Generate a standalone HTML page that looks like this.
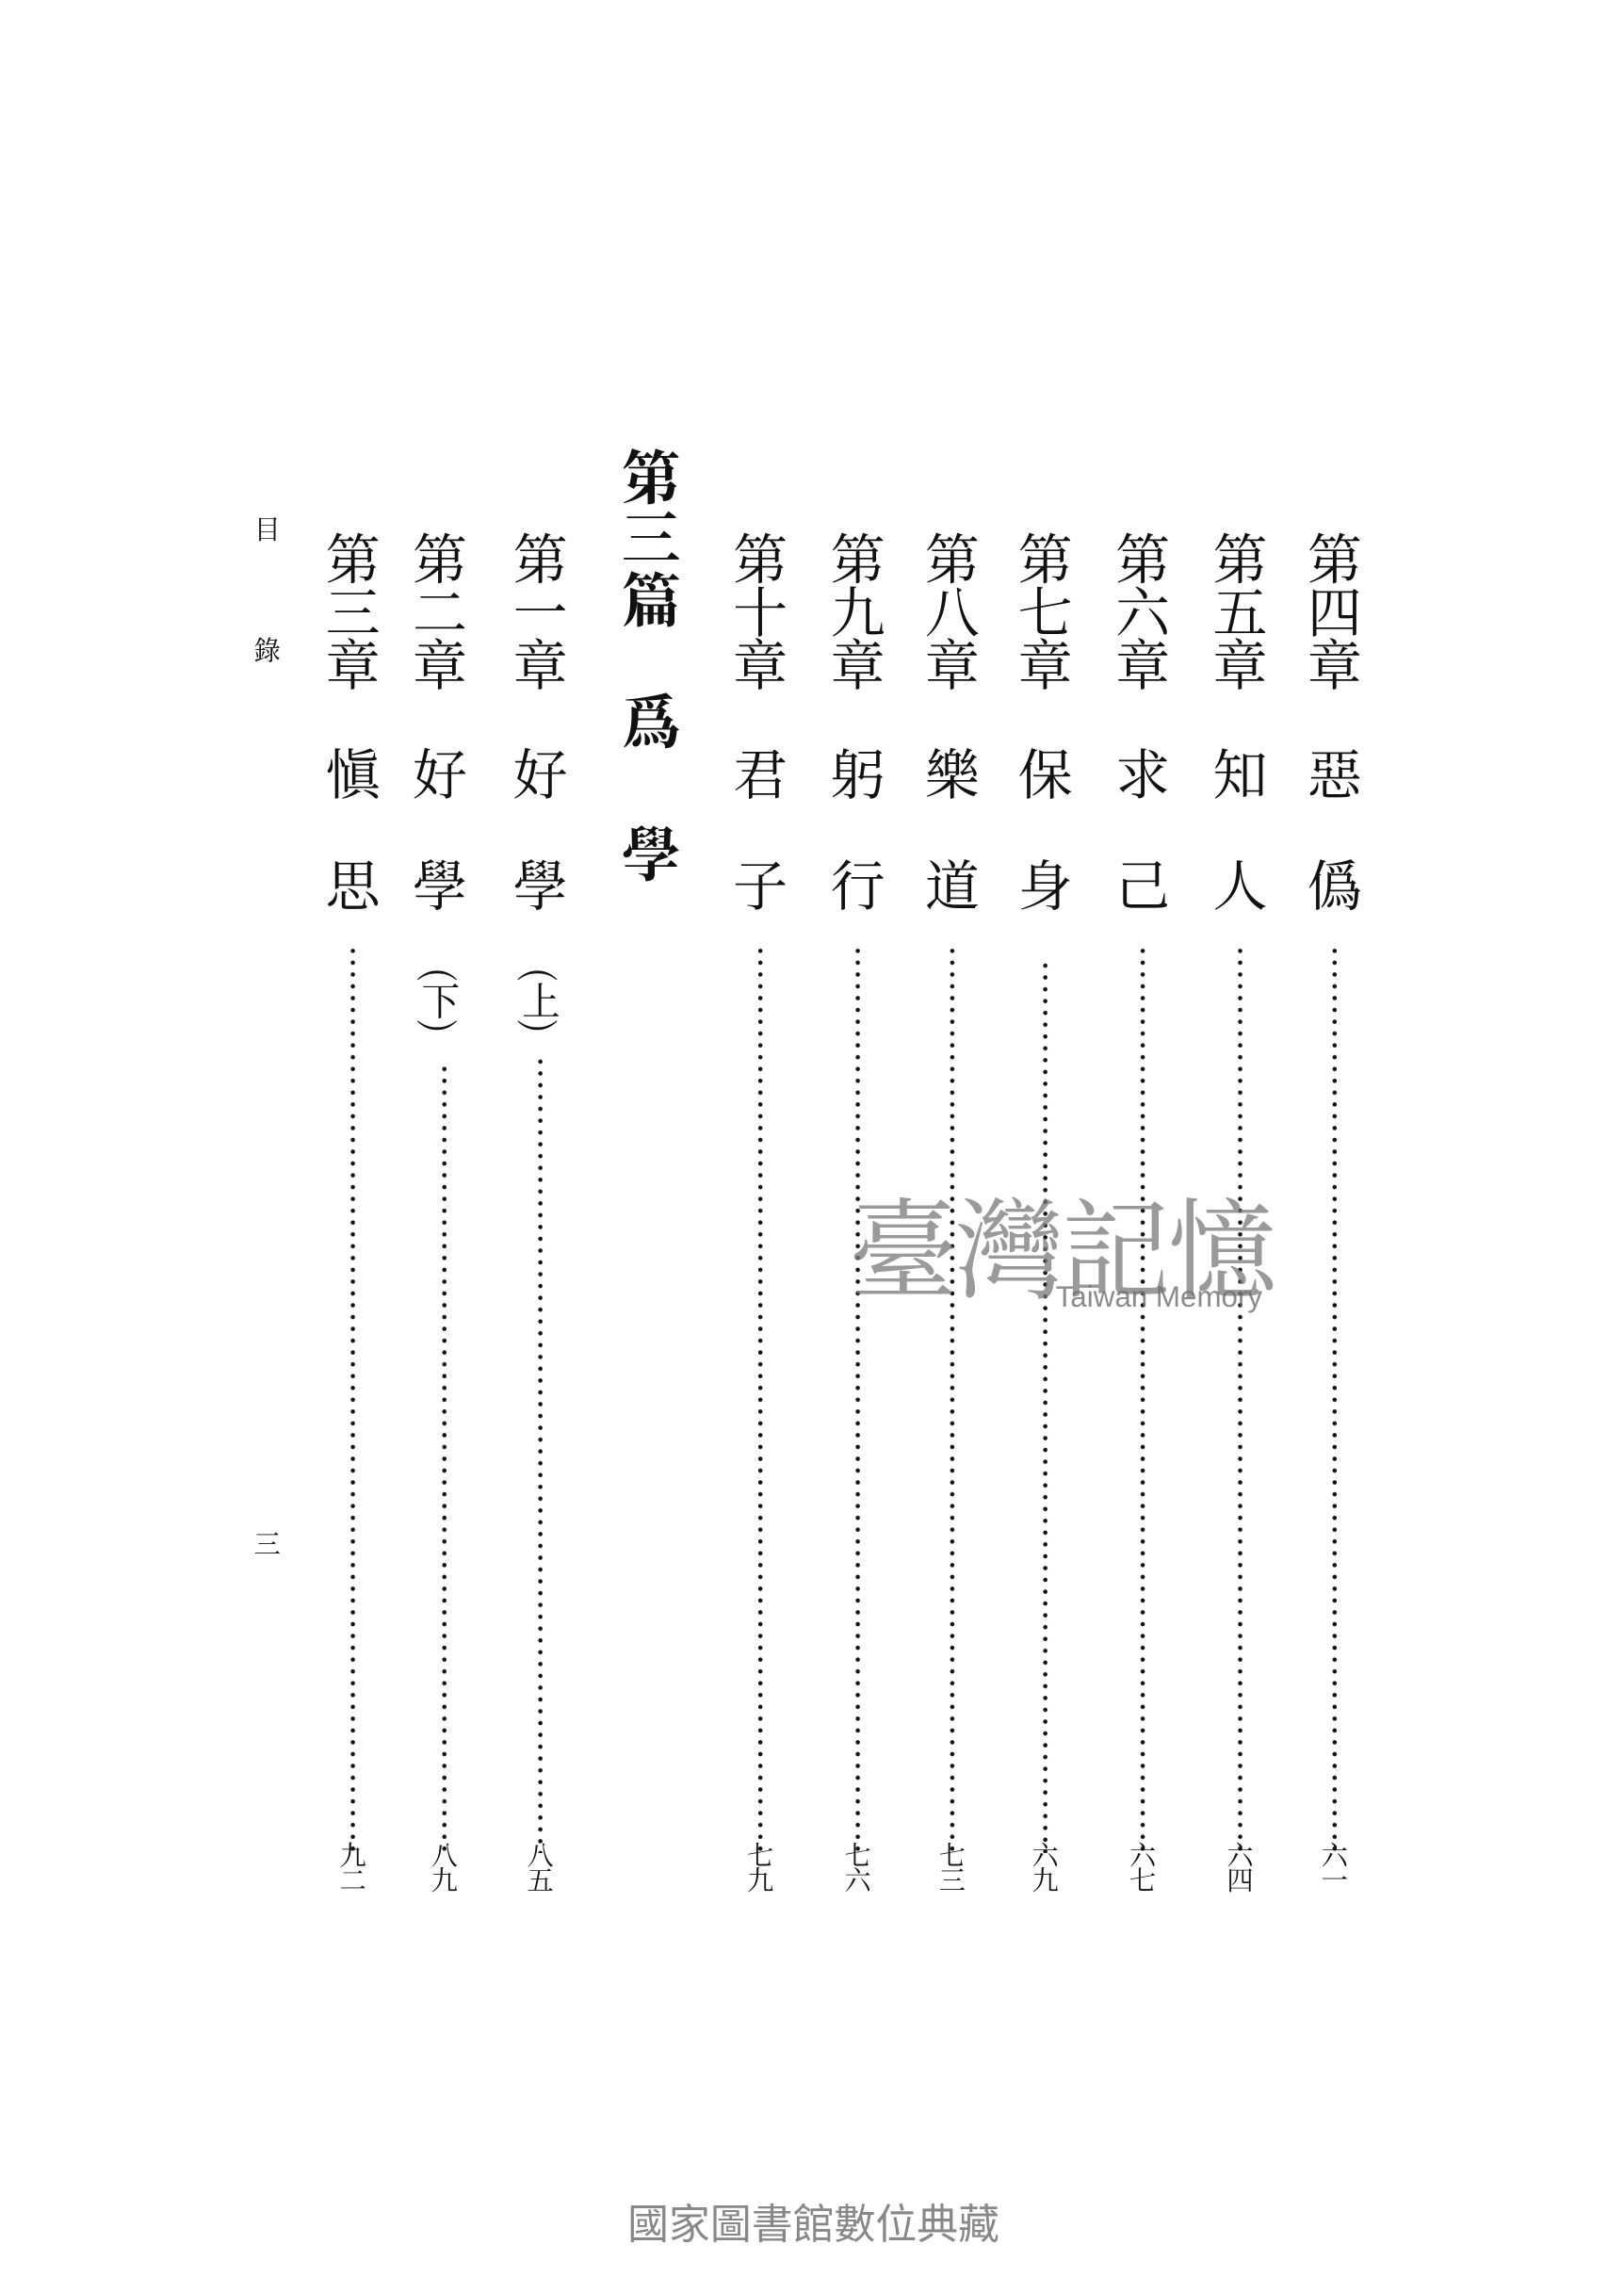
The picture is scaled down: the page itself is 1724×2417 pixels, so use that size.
<!DOCTYPE html>
<html><head><meta charset="utf-8"><style>
html,body{margin:0;padding:0;background:#fff;}
#page{position:relative;width:1724px;height:2417px;overflow:hidden;background:#fff;}
#s{position:absolute;left:0;top:0;width:1100px;height:1543px;transform:scale(1.5673);transform-origin:0 0;}
.c{position:absolute;font-family:"Liberation Serif","Noto Serif CJK SC","Noto Serif CJK TC",serif;color:#111;line-height:1;text-align:center;}
.ch{position:absolute;width:40px;margin-left:-20px;font-size:37px;}
.p{position:absolute;width:40px;margin-left:-20px;font-size:26px;writing-mode:vertical-rl;font-family:"Noto Serif CJK SC",serif;line-height:40px;}
.d{position:absolute;width:4px;margin-left:-2px;background-image:radial-gradient(circle,#111 1.3px,transparent 1.6px);background-size:4px 8px;}
.n{position:absolute;width:30px;margin-left:-15px;font-size:18px;line-height:17px;font-family:"Noto Serif CJK SC",serif;color:#111;text-align:center;}
</style></head><body><div id="page"><div id="s">
<div class="c">
<div class="ch" style="left:904px;top:362px">第</div><div class="ch" style="left:904px;top:398px">四</div><div class="ch" style="left:904px;top:434px">章</div><div class="ch" style="left:904px;top:508px">惡</div><div class="ch" style="left:904px;top:583px">僞</div>
<div class="ch" style="left:840px;top:362px">第</div><div class="ch" style="left:840px;top:398px">五</div><div class="ch" style="left:840px;top:434px">章</div><div class="ch" style="left:840px;top:508px">知</div><div class="ch" style="left:840px;top:583px">人</div>
<div class="ch" style="left:774px;top:362px">第</div><div class="ch" style="left:774px;top:398px">六</div><div class="ch" style="left:774px;top:434px">章</div><div class="ch" style="left:774px;top:508px">求</div><div class="ch" style="left:774px;top:583px">己</div>
<div class="ch" style="left:708px;top:362px">第</div><div class="ch" style="left:708px;top:398px">七</div><div class="ch" style="left:708px;top:434px">章</div><div class="ch" style="left:708px;top:508px">保</div><div class="ch" style="left:708px;top:583px">身</div>
<div class="ch" style="left:645px;top:362px">第</div><div class="ch" style="left:645px;top:398px">八</div><div class="ch" style="left:645px;top:434px">章</div><div class="ch" style="left:645px;top:508px">樂</div><div class="ch" style="left:645px;top:583px">道</div>
<div class="ch" style="left:581px;top:362px">第</div><div class="ch" style="left:581px;top:398px">九</div><div class="ch" style="left:581px;top:434px">章</div><div class="ch" style="left:581px;top:508px">躬</div><div class="ch" style="left:581px;top:583px">行</div>
<div class="ch" style="left:515px;top:362px">第</div><div class="ch" style="left:515px;top:398px">十</div><div class="ch" style="left:515px;top:434px">章</div><div class="ch" style="left:515px;top:508px">君</div><div class="ch" style="left:515px;top:583px">子</div>
<div class="ch" style="left:441px;top:305px;font-size:40px;font-weight:bold">第</div><div class="ch" style="left:441px;top:346px;font-size:40px;font-weight:bold">三</div><div class="ch" style="left:441px;top:388px;font-size:40px;font-weight:bold">篇</div><div class="ch" style="left:441px;top:470px;font-size:40px;font-weight:bold">爲</div><div class="ch" style="left:441px;top:560px;font-size:40px;font-weight:bold">學</div>
<div class="ch" style="left:366px;top:362px">第</div><div class="ch" style="left:366px;top:398px">一</div><div class="ch" style="left:366px;top:434px">章</div><div class="ch" style="left:366px;top:508px">好</div><div class="ch" style="left:366px;top:583px">學</div><div class="p" style="left:366px;top:655px">(上)</div>
<div class="ch" style="left:298px;top:362px">第</div><div class="ch" style="left:298px;top:398px">二</div><div class="ch" style="left:298px;top:434px">章</div><div class="ch" style="left:298px;top:508px">好</div><div class="ch" style="left:298px;top:583px">學</div><div class="p" style="left:298px;top:655px">(下)</div>
<div class="ch" style="left:239px;top:362px">第</div><div class="ch" style="left:239px;top:398px">三</div><div class="ch" style="left:239px;top:434px">章</div><div class="ch" style="left:239px;top:508px">愼</div><div class="ch" style="left:239px;top:583px">思</div>
<div class="ch" style="left:181px;top:350px;font-size:18px">目</div><div class="ch" style="left:181px;top:432px;font-size:18px">錄</div><div class="ch" style="left:181px;top:1037px;font-size:18px">三</div>
</div>
<div class="d" style="left:904px;top:640px;height:615px"></div>
<div class="d" style="left:840px;top:640px;height:615px"></div>
<div class="d" style="left:774px;top:640px;height:615px"></div>
<div class="d" style="left:708px;top:650px;height:605px"></div>
<div class="d" style="left:645px;top:640px;height:615px"></div>
<div class="d" style="left:581px;top:640px;height:615px"></div>
<div class="d" style="left:515px;top:640px;height:615px"></div>
<div class="d" style="left:366px;top:715px;height:540px"></div>
<div class="d" style="left:301px;top:720px;height:535px"></div>
<div class="d" style="left:239px;top:640px;height:615px"></div>
<div class="n" style="left:904px;top:1248px">六<br>一</div>
<div class="n" style="left:840px;top:1248px">六<br>四</div>
<div class="n" style="left:774px;top:1248px">六<br>七</div>
<div class="n" style="left:708px;top:1248px">六<br>九</div>
<div class="n" style="left:645px;top:1248px">七<br>三</div>
<div class="n" style="left:581px;top:1248px">七<br>六</div>
<div class="n" style="left:515px;top:1248px">七<br>九</div>
<div class="n" style="left:366px;top:1248px">八<br>五</div>
<div class="n" style="left:301px;top:1248px">八<br>九</div>
<div class="n" style="left:239px;top:1248px">九<br>二</div>
<div style="position:absolute;left:575px;top:805px;font-size:74px;color:rgba(120,120,120,0.75);font-family:'Noto Serif CJK SC',serif;line-height:1;letter-spacing:-2px">臺灣記憶</div>
<div style="position:absolute;left:715px;top:868px;font-size:20px;color:rgba(110,110,110,0.8);font-family:'Liberation Sans',sans-serif;">Taiwan Memory</div>
<div style="position:absolute;left:425px;top:1493px;font-size:28px;color:#888;font-family:'Liberation Sans','Noto Sans CJK TC',sans-serif;line-height:1">國家圖書館數位典藏</div>
</div></div></body></html>
